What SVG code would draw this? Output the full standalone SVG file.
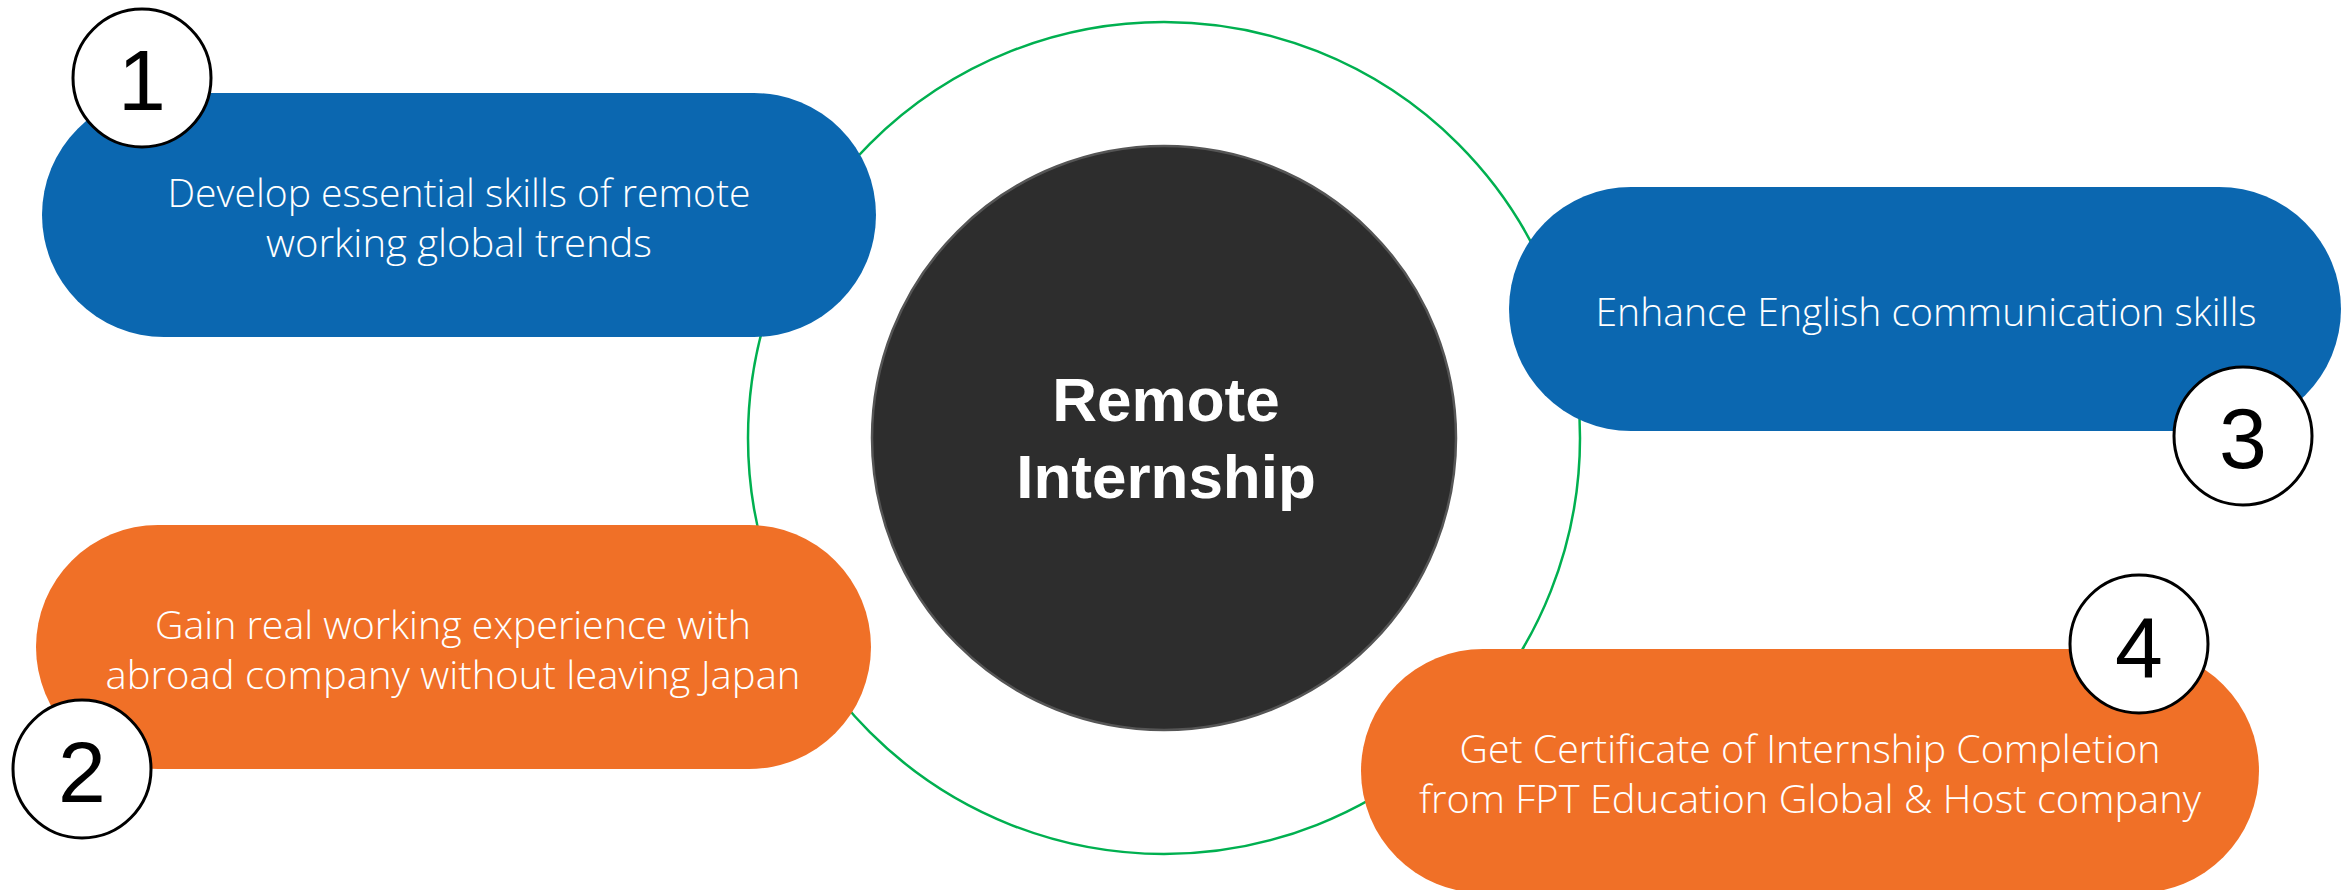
<svg xmlns="http://www.w3.org/2000/svg" width="2351" height="890" viewBox="0 0 2351 890">
<style>
.blue{fill:#0b67b0}
.orange{fill:#f07027}
.lbl{font-family:"Open Sans","Liberation Sans",sans-serif;font-weight:300;font-size:39px;fill:#ffffff;text-anchor:middle}
.numc{fill:#ffffff;stroke:#000000;stroke-width:3}
.num{font-family:"Liberation Sans","DejaVu Sans",sans-serif;font-size:86px;fill:#000000;text-anchor:middle}
.title{font-family:"Liberation Sans","DejaVu Sans",sans-serif;font-weight:bold;font-size:62px;fill:#ffffff;text-anchor:middle}
</style>
<rect width="2351" height="890" fill="#ffffff"/>
<g id="connectors">
<circle cx="1164" cy="438" r="416" fill="none" stroke="#00b050" stroke-width="2.5"/>
</g>
<g id="node1">
<rect class="blue" x="42" y="93" width="834" height="244" rx="122" ry="122"/>
<text class="lbl" x="459" y="207" textLength="583" lengthAdjust="spacingAndGlyphs">Develop essential skills of remote</text>
<text class="lbl" x="459" y="257" textLength="386" lengthAdjust="spacingAndGlyphs">working global trends</text>
</g>
<g id="node3">
<rect class="blue" x="1509" y="187" width="832" height="244" rx="122" ry="122"/>
<text class="lbl" x="1926" y="326" textLength="661" lengthAdjust="spacingAndGlyphs">Enhance English communication skills</text>
</g>
<g id="node2">
<rect class="orange" x="36" y="525" width="835" height="244" rx="122" ry="122"/>
<text class="lbl" x="453" y="639" textLength="596" lengthAdjust="spacingAndGlyphs">Gain real working experience with</text>
<text class="lbl" x="453" y="689" textLength="695" lengthAdjust="spacingAndGlyphs">abroad company without leaving Japan</text>
</g>
<g id="node4">
<rect class="orange" x="1361" y="649" width="898" height="244" rx="122" ry="122"/>
<text class="lbl" x="1810" y="763" textLength="701" lengthAdjust="spacingAndGlyphs">Get Certificate of Internship Completion</text>
<text class="lbl" x="1810" y="813" textLength="782" lengthAdjust="spacingAndGlyphs">from FPT Education Global &amp; Host company</text>
</g>
<g id="center">
<circle cx="1164" cy="438" r="292" fill="#2d2d2d" stroke="#555555" stroke-width="2.5"/>
<text class="title" x="1166" y="421">Remote</text>
<text class="title" x="1166" y="498">Internship</text>
</g>
<g id="badge1">
<circle class="numc" cx="142" cy="78" r="69"/>
<text class="num" x="142" y="110">1</text>
</g>
<g id="badge2">
<circle class="numc" cx="82" cy="769" r="69"/>
<text class="num" x="82" y="802">2</text>
</g>
<g id="badge3">
<circle class="numc" cx="2243" cy="436" r="69"/>
<text class="num" x="2243" y="468">3</text>
</g>
<g id="badge4">
<circle class="numc" cx="2139" cy="644" r="69"/>
<text class="num" x="2139" y="677">4</text>
</g>
</svg>
